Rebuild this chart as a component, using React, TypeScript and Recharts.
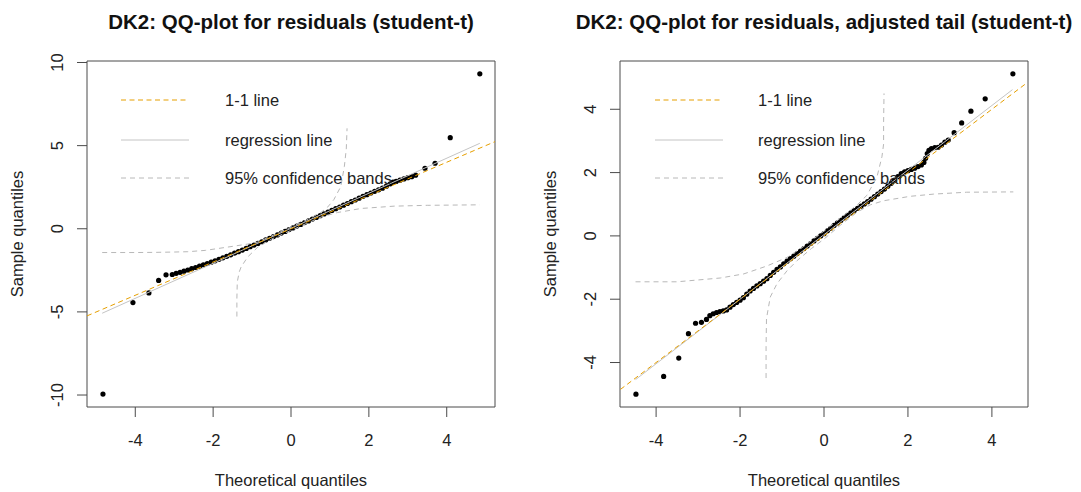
import React from "react";
import { ReferenceArea, Scatter, ScatterChart, XAxis, YAxis } from "recharts";

type Pair = [number, number];

const titleLeft = "DK2: QQ-plot for residuals (student-t)";
const titleRight = "DK2: QQ-plot for residuals, adjusted tail (student-t)";
const xTitle = "Theoretical quantiles";
const yTitle = "Sample quantiles";
const legendLabels = ["1-1 line", "regression line", "95% confidence bands"];

const xTicks = [-4, -2, 0, 2, 4];
const leftYTicks = [-10, -5, 0, 5, 10];
const rightYTicks = [-4, -2, 0, 2, 4];

// left panel: residuals vs student-t quantiles
const leftPoints: Pair[] = [
  [-4.83, -9.94], [-4.06, -4.44], [-3.65, -3.86], [-3.4, -3.11], [-3.21, -2.77], [-3.05, -2.75],
  [-2.95, -2.68], [-2.85, -2.62], [-2.75, -2.55], [-2.65, -2.48], [-2.55, -2.4], [-2.45, -2.33],
  [-2.35, -2.25], [-2.25, -2.17], [-2.15, -2.09], [-2.05, -2.01], [-1.95, -1.93], [-1.85, -1.84],
  [-1.75, -1.75], [-1.65, -1.66], [-1.55, -1.57], [-1.45, -1.47], [-1.35, -1.38], [-1.25, -1.28],
  [-1.15, -1.18], [-1.05, -1.08], [-0.95, -0.98], [-0.85, -0.88], [-0.75, -0.78], [-0.65, -0.67],
  [-0.55, -0.57], [-0.45, -0.47], [-0.35, -0.37], [-0.25, -0.26], [-0.15, -0.16], [-0.05, -0.05],
  [0.05, 0.05], [0.15, 0.16], [0.25, 0.26], [0.35, 0.37], [0.45, 0.47], [0.55, 0.58],
  [0.65, 0.68], [0.75, 0.79], [0.85, 0.89], [0.95, 1.0], [1.05, 1.1], [1.15, 1.21],
  [1.25, 1.31], [1.35, 1.42], [1.45, 1.52], [1.55, 1.63], [1.65, 1.73], [1.75, 1.84],
  [1.85, 1.95], [1.95, 2.05], [2.05, 2.15], [2.15, 2.25], [2.25, 2.34], [2.35, 2.44],
  [2.45, 2.56], [2.55, 2.7], [2.62, 2.8], [2.7, 2.85], [2.8, 2.92], [2.9, 3.0],
  [3.0, 3.07], [3.1, 3.13], [3.2, 3.22], [3.44, 3.64], [3.7, 3.94], [4.09, 5.48], [4.85, 9.32],
];
const leftOneOne: Pair[] = [[-5.24, -5.24], [5.24, 5.24]];
const leftRegression: Pair[] = [[-4.85, -5.08], [4.85, 5.14]];
const leftBandUpper: Pair[] = [
  [-4.85, -1.43], [-4.0, -1.43], [-3.5, -1.42], [-3.0, -1.4], [-2.65, -1.38], [-2.2, -1.3],
  [-1.62, -1.1], [-1.11, -0.92], [-0.85, -0.8], [-0.5, -0.43], [0, 0.1], [0.4, 0.53],
  [0.77, 0.98], [0.94, 1.3], [1.1, 1.75], [1.28, 2.54], [1.37, 3.74], [1.42, 4.8], [1.44, 6.04],
];
const leftBandLower: Pair[] = [
  [-1.39, -5.28], [-1.39, -4.2], [-1.38, -3.2], [-1.33, -2.6], [-1.28, -2.29], [-1.11, -1.69],
  [-0.85, -1.1], [-0.5, -0.62], [0, -0.1], [0.4, 0.32], [0.77, 0.7], [1.2, 0.98],
  [1.8, 1.22], [2.65, 1.36], [3.5, 1.41], [4.85, 1.44],
];

// right panel: adjusted tail
const rightPoints: Pair[] = [
  [-4.48, -5.0], [-3.82, -4.44], [-3.46, -3.86], [-3.23, -3.09], [-3.06, -2.76], [-2.92, -2.73],
  [-2.8, -2.64], [-2.72, -2.52], [-2.64, -2.46], [-2.56, -2.42], [-2.48, -2.39], [-2.4, -2.37],
  [-2.32, -2.34], [-2.24, -2.25], [-2.16, -2.17], [-2.08, -2.1], [-2.0, -2.03], [-1.92, -1.95],
  [-1.84, -1.84], [-1.76, -1.74], [-1.68, -1.66], [-1.6, -1.58], [-1.52, -1.51], [-1.44, -1.43],
  [-1.36, -1.35], [-1.28, -1.25], [-1.2, -1.15], [-1.12, -1.06], [-1.04, -0.98], [-0.96, -0.88],
  [-0.88, -0.8], [-0.8, -0.72], [-0.72, -0.64], [-0.64, -0.56], [-0.56, -0.48], [-0.48, -0.4],
  [-0.4, -0.32], [-0.32, -0.24], [-0.24, -0.16], [-0.16, -0.08], [-0.08, 0.0], [0.0, 0.07],
  [0.08, 0.16], [0.16, 0.24], [0.24, 0.33], [0.32, 0.41], [0.4, 0.49], [0.48, 0.57],
  [0.56, 0.65], [0.64, 0.73], [0.72, 0.8], [0.8, 0.87], [0.88, 0.94], [0.96, 1.01],
  [1.04, 1.08], [1.12, 1.16], [1.2, 1.24], [1.28, 1.32], [1.36, 1.4], [1.44, 1.48],
  [1.52, 1.57], [1.6, 1.66], [1.68, 1.76], [1.76, 1.87], [1.84, 1.97], [1.92, 2.02],
  [2.0, 2.06], [2.08, 2.1], [2.16, 2.14], [2.24, 2.19], [2.32, 2.24], [2.38, 2.32],
  [2.42, 2.45], [2.46, 2.6], [2.5, 2.7], [2.56, 2.76], [2.64, 2.79], [2.72, 2.8],
  [2.8, 2.87], [2.88, 2.96], [2.96, 3.03], [3.1, 3.26], [3.28, 3.57], [3.5, 3.94],
  [3.84, 4.33], [4.5, 5.12],
];
const rightOneOne: Pair[] = [[-4.85, -4.85], [4.85, 4.85]];
const rightRegression: Pair[] = [[-4.49, -4.54], [4.49, 4.62]];
const rightBandUpper: Pair[] = [
  [-4.49, -1.45], [-3.5, -1.45], [-2.47, -1.33], [-1.91, -1.2], [-1.36, -0.95], [-0.88, -0.68],
  [-0.5, -0.35], [0, 0.15], [0.5, 0.68], [0.79, 0.98], [1.02, 1.28], [1.26, 1.85],
  [1.38, 2.5], [1.42, 2.9], [1.42, 3.6], [1.43, 4.5],
];
const rightBandLower: Pair[] = [
  [-1.38, -4.49], [-1.38, -3.5], [-1.37, -2.61], [-1.28, -1.93], [-1.12, -1.51], [-0.88, -1.1],
  [-0.64, -0.78], [-0.3, -0.4], [0, -0.1], [0.4, 0.35], [0.79, 0.75], [1.1, 0.98],
  [1.42, 1.11], [2.05, 1.25], [2.61, 1.32], [3.4, 1.38], [4.51, 1.39],
];

const ORANGE = "#e69f00";
const REG_GREY = "#c4c4c4";
const BAND_GREY = "#b8b8b8";
const AXIS = "#4a4a4a";
const FONT = "'Liberation Sans', Arial, sans-serif";

const toXY = (p: Pair[]) => p.map(([x, y]) => ({ x, y }));

const Dot = (props: any) => <circle cx={props.cx} cy={props.cy} r={2.6} fill="#000" />;
const NoDot = () => <g />;

const RotTick = (props: any) => {
  const { x, y, payload } = props;
  return (
    <text
      x={x}
      y={y}
      transform={`rotate(-90 ${x} ${y})`}
      textAnchor="middle"
      fontSize={16.5}
      fontFamily={FONT}
      fill="#222"
    >
      {payload.value}
    </text>
  );
};

interface PanelProps {
  width: number;
  yAxisWidth: number;
  marginRight: number;
  xDomain: [number, number];
  yDomain: [number, number];
  yTicks: number[];
  points: Pair[];
  oneOne: Pair[];
  regression: Pair[];
  bandUpper: Pair[];
  bandLower: Pair[];
}

function QQPanel(p: PanelProps) {
  return (
    <ScatterChart
      width={p.width}
      height={492}
      margin={{ top: 61, right: p.marginRight, bottom: 0, left: 0 }}
    >
      <XAxis
        type="number"
        dataKey="x"
        domain={p.xDomain}
        allowDataOverflow
        ticks={xTicks}
        interval={0}
        axisLine={false}
        tickSize={10}
        tickMargin={17}
        tickLine={{ stroke: AXIS }}
        tick={{ fontSize: 16.5, fontFamily: FONT, fill: "#222" }}
        height={85}
      />
      <YAxis
        type="number"
        dataKey="y"
        domain={p.yDomain}
        allowDataOverflow
        ticks={p.yTicks}
        interval={0}
        axisLine={false}
        tickSize={10}
        tickMargin={14}
        tickLine={{ stroke: AXIS }}
        tick={RotTick}
        width={p.yAxisWidth}
      />
      <ReferenceArea
        x1={p.xDomain[0]}
        x2={p.xDomain[1]}
        y1={p.yDomain[0]}
        y2={p.yDomain[1]}
        fill="none"
        fillOpacity={0}
        stroke={AXIS}
        strokeWidth={1}
        ifOverflow="visible"
      />
      <Scatter data={toXY(p.points)} shape={Dot} isAnimationActive={false} />
      <Scatter
        data={toXY(p.bandUpper)}
        fill={BAND_GREY}
        shape={NoDot}
        line={{ stroke: BAND_GREY, strokeWidth: 1, strokeDasharray: "5 4" }}
        isAnimationActive={false}
      />
      <Scatter
        data={toXY(p.bandLower)}
        fill={BAND_GREY}
        shape={NoDot}
        line={{ stroke: BAND_GREY, strokeWidth: 1, strokeDasharray: "5 4" }}
        isAnimationActive={false}
      />
      <Scatter
        data={toXY(p.regression)}
        fill={REG_GREY}
        shape={NoDot}
        line={{ stroke: REG_GREY, strokeWidth: 1 }}
        isAnimationActive={false}
      />
      <Scatter
        data={toXY(p.oneOne)}
        fill={ORANGE}
        shape={NoDot}
        line={{ stroke: ORANGE, strokeWidth: 1, strokeDasharray: "5 3.5" }}
        isAnimationActive={false}
      />
    </ScatterChart>
  );
}

function Legend({ sx, tx }: { sx: number; tx: number }) {
  const rows = [
    { y: 100, stroke: ORANGE, dash: "5 3.5" },
    { y: 140, stroke: REG_GREY, dash: undefined },
    { y: 178, stroke: BAND_GREY, dash: "5 4" },
  ];
  return (
    <g>
      {rows.map((r, i) => (
        <g key={i}>
          <line x1={sx} x2={sx + 68} y1={r.y} y2={r.y} stroke={r.stroke} strokeDasharray={r.dash} />
          <text x={tx} y={r.y + 6} fontSize={16.5} fontFamily={FONT} fill="#222">
            {legendLabels[i]}
          </text>
        </g>
      ))}
    </g>
  );
}

export default function App() {
  return (
    <div
      style={{
        position: "absolute",
        left: 0,
        top: 0,
        width: 1081,
        height: 492,
        background: "#fff",
        overflow: "hidden",
      }}
    >
      <div style={{ position: "absolute", left: 0, top: 0 }}>
        <QQPanel
          width={540}
          yAxisWidth={87}
          marginRight={45}
          xDomain={[-5.24, 5.24]}
          yDomain={[-10.72, 10.09]}
          yTicks={leftYTicks}
          points={leftPoints}
          oneOne={leftOneOne}
          regression={leftRegression}
          bandUpper={leftBandUpper}
          bandLower={leftBandLower}
        />
      </div>
      <div style={{ position: "absolute", left: 540, top: 0 }}>
        <QQPanel
          width={541}
          yAxisWidth={80}
          marginRight={53}
          xDomain={[-4.86, 4.86]}
          yDomain={[-5.405, 5.525]}
          yTicks={rightYTicks}
          points={rightPoints}
          oneOne={rightOneOne}
          regression={rightRegression}
          bandUpper={rightBandUpper}
          bandLower={rightBandLower}
        />
      </div>
      <svg
        width={1081}
        height={492}
        style={{ position: "absolute", left: 0, top: 0, pointerEvents: "none" }}
      >
        <g fontFamily={FONT} fill="#111">
          <text x={291} y={29} textAnchor="middle" fontSize={20.5} fontWeight="bold">
            {titleLeft}
          </text>
          <text x={824} y={29} textAnchor="middle" fontSize={20.5} fontWeight="bold">
            {titleRight}
          </text>
          <text x={291} y={486} textAnchor="middle" fontSize={16.5} fill="#222">
            {xTitle}
          </text>
          <text x={824} y={486} textAnchor="middle" fontSize={16.5} fill="#222">
            {xTitle}
          </text>
          <text
            x={23}
            y={234}
            textAnchor="middle"
            fontSize={16.5}
            fill="#222"
            transform="rotate(-90 23 234)"
          >
            {yTitle}
          </text>
          <text
            x={556}
            y={234}
            textAnchor="middle"
            fontSize={16.5}
            fill="#222"
            transform="rotate(-90 556 234)"
          >
            {yTitle}
          </text>
        </g>
        <Legend sx={121} tx={225} />
        <Legend sx={655} tx={758} />
      </svg>
    </div>
  );
}
